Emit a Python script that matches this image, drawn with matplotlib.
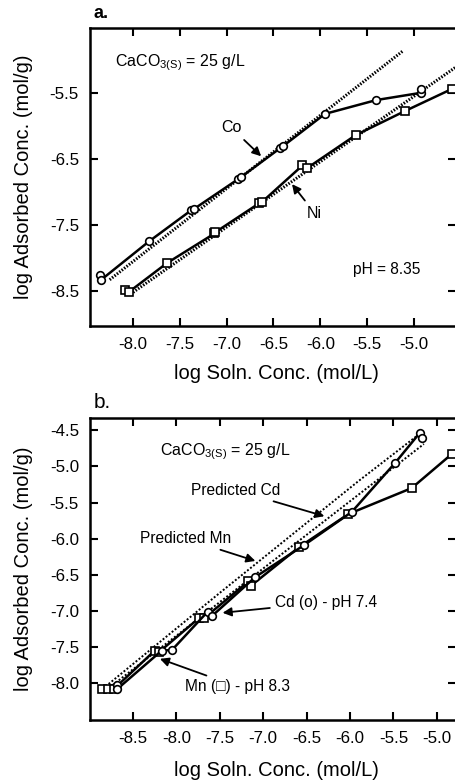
import matplotlib
matplotlib.use("Agg")
import matplotlib.pyplot as plt
import numpy as np

plt.rcParams['font.family'] = ['Liberation Sans', 'DejaVu Sans']
plt.rcParams['mathtext.fontset'] = 'custom'
plt.rcParams['mathtext.rm'] = 'Liberation Sans'
plt.rcParams['mathtext.it'] = 'Liberation Sans'

# ---- Panel a data ----
co_x = [-8.35, -8.34, -7.83, -7.38, -7.35, -6.88, -6.85, -6.43, -6.40, -5.95, -5.40, -4.92, -4.92]
co_y = [-8.26, -8.33, -7.75, -7.28, -7.26, -6.81, -6.78, -6.34, -6.31, -5.82, -5.61, -5.50, -5.45]
ni_x = [-8.09, -8.04, -7.64, -7.13, -7.12, -6.65, -6.62, -6.19, -6.14, -5.62, -5.10, -4.59]
ni_y = [-8.48, -8.51, -8.08, -7.63, -7.61, -7.17, -7.15, -6.60, -6.64, -6.14, -5.78, -5.44]
co_pred_x = [-8.25, -5.12]
co_pred_y = [-8.33, -4.87]
ni_pred_x = [-8.00, -4.55]
ni_pred_y = [-8.52, -5.11]

# ---- Panel b data ----
mn_x = [-8.86, -8.79, -8.72, -8.25, -8.20, -7.74, -7.68, -7.17, -7.14, -6.59, -6.02, -5.29, -4.83]
mn_y = [-8.08, -8.08, -8.08, -7.55, -7.57, -7.10, -7.10, -6.59, -6.65, -6.12, -5.66, -5.30, -4.83]
cd_x = [-8.68, -8.68, -8.17, -8.05, -7.64, -7.59, -7.09, -6.53, -5.98, -5.48, -5.20, -5.17]
cd_y = [-8.02, -8.08, -7.55, -7.54, -7.01, -7.07, -6.53, -6.09, -5.63, -4.95, -4.54, -4.60]
mn_pred_x = [-8.85, -7.50, -5.90, -5.20]
mn_pred_y = [-8.08, -6.75, -5.20, -4.55]
cd_pred_x = [-8.77, -5.15]
cd_pred_y = [-8.06, -4.69]

xticks_a = [-8.0, -7.5, -7.0, -6.5, -6.0, -5.5, -5.0]
yticks_a = [-5.5, -6.5, -7.5, -8.5]
xticks_b = [-8.5, -8.0, -7.5, -7.0, -6.5, -6.0, -5.5, -5.0]
yticks_b = [-4.5, -5.0, -5.5, -6.0, -6.5, -7.0, -7.5, -8.0]

W, H = 456, 780
fig = plt.figure(figsize=(W / 100, H / 100), dpi=100)

def px_axes(l, t, r, b):
    return fig.add_axes([l / W, 1 - b / H, (r - l) / W, (b - t) / H])

axa = px_axes(90, 28, 456, 326)
axb = px_axes(90, 418, 456, 720)

def style(ax, xt, yt, top_px, bottom_px, xlab_top_px):
    ax.set_xticks(xt)
    ax.set_yticks(yt)
    ax.set_xticklabels([f"{v:.1f}" for v in xt])
    ax.set_yticklabels([f"{v:.1f}" for v in yt])
    ax.tick_params(direction='in', length=6, width=1.5, top=True, right=True,
                   labelsize=12.2, pad=8)
    for s in ax.spines.values():
        s.set_linewidth(1.8)
    ax.set_xlabel("log Soln. Conc. (mol/L)", fontsize=14.5)
    ax.set_ylabel("log Adsorbed Conc. (mol/g)", fontsize=14.5)
    ax.xaxis.set_label_coords((276 - 90) / (456 - 90),
                              -(xlab_top_px - bottom_px) / (bottom_px - top_px))
    ax.yaxis.set_label_coords(-(90 - 33) / (456 - 90), 0.5)

mk = dict(markersize=5.5, markerfacecolor='white', markeredgecolor='black',
          markeredgewidth=1.2, color='black', lw=1.8)

# Panel a
axa.plot(co_pred_x, co_pred_y, color='black', lw=2.2, ls=(0, (0.5, 0.5)))
axa.plot(ni_pred_x, ni_pred_y, color='black', lw=2.2, ls=(0, (0.5, 0.5)))
axa.plot(co_x, co_y, marker='o', **mk)
axa.plot(ni_x, ni_y, marker='s', **mk)
axa.set_xlim(-8.46, -4.55)
axa.set_ylim(-9.03, -4.52)
style(axa, xticks_a, yticks_a, 28, 326, 364)
ap = dict(arrowstyle='-|>', lw=1.3, color='black', mutation_scale=13)
axa.annotate("Co", xy=(-6.61, -6.49), xytext=(-6.95, -6.03), fontsize=11.5,
             ha='center', va='center', arrowprops=ap)
axa.annotate("Ni", xy=(-6.32, -6.85), xytext=(-6.06, -7.32), fontsize=11.5,
             ha='center', va='center', arrowprops=ap)
axa.text(-8.19, -5.04, r"CaCO$_{\mathrm{3(S)}}$ = 25 g/L", fontsize=11.5, va='center')
axa.text(-5.65, -8.17, "pH = 8.35", fontsize=11.2, va='center')
axa.text(0.01, 1.02, "a.", transform=axa.transAxes, fontsize=13,
         fontweight='bold', va='bottom', ha='left')

# Panel b
axb.plot(mn_pred_x, mn_pred_y, color='black', lw=1.4, ls=(0, (1, 1)))
axb.plot(cd_pred_x, cd_pred_y, color='black', lw=1.4, ls=(0, (1, 1)))
axb.plot(mn_x, mn_y, marker='s', **mk)
axb.plot(cd_x, cd_y, marker='o', **mk)
axb.set_xlim(-8.995, -4.78)
axb.set_ylim(-8.51, -4.33)
style(axb, xticks_b, yticks_b, 418, 720, 761)
axb.annotate("Predicted Cd", xy=(-6.265, -5.70), xytext=(-7.83, -5.33),
             fontsize=11.2, ha='left', va='center', arrowprops=ap)
axb.annotate("Predicted Mn", xy=(-7.06, -6.32), xytext=(-8.42, -6.00),
             fontsize=11.2, ha='left', va='center', arrowprops=ap)
axb.annotate("Cd (o) - pH 7.4", xy=(-7.50, -7.03), xytext=(-6.86, -6.88),
             fontsize=11.2, ha='left', va='center', arrowprops=ap)
axb.annotate("Mn (\u25a1) - pH 8.3", xy=(-8.22, -7.65), xytext=(-7.90, -8.05),
             fontsize=11.2, ha='left', va='center', arrowprops=ap)
axb.text(-8.19, -4.80, r"CaCO$_{\mathrm{3(S)}}$ = 25 g/L", fontsize=11.5, va='center')
axb.text(0.01, 1.02, "b.", transform=axb.transAxes, fontsize=15,
         va='bottom', ha='left')

fig.savefig("out.png", dpi=100)
